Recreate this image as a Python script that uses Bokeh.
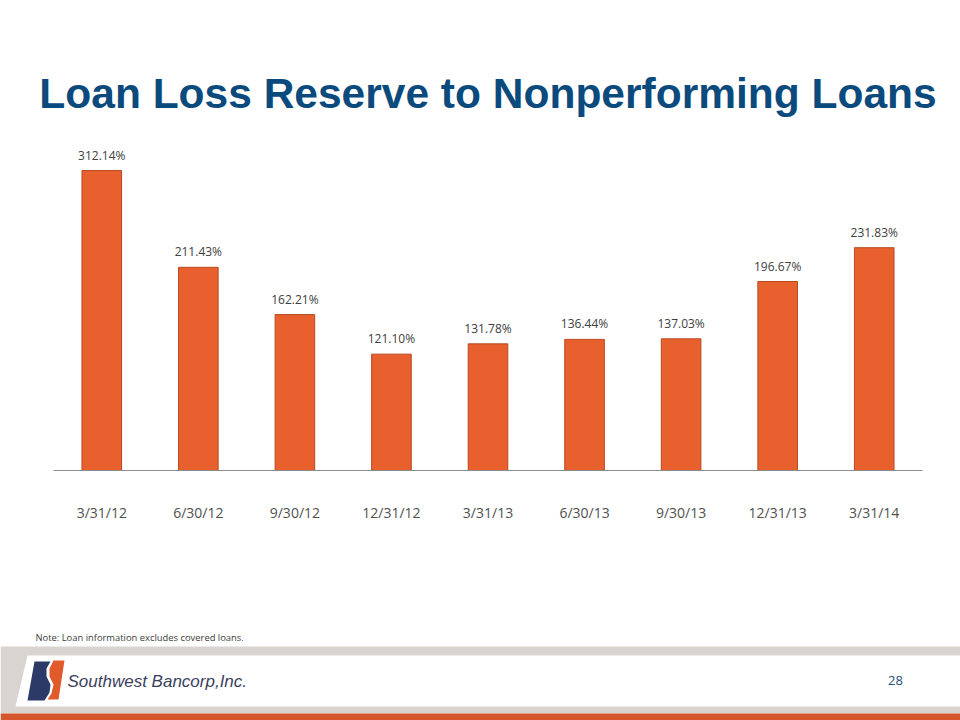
from bokeh.plotting import figure
from bokeh.models import ColumnDataSource, LabelSet, Range1d, FactorRange, Column, Row
from bokeh.core.properties import value
from bokeh.embed import file_html
from bokeh.resources import INLINE

dates = ["3/31/12", "6/30/12", "9/30/12", "12/31/12", "3/31/13", "6/30/13", "9/30/13", "12/31/13", "3/31/14"]
ratios = [312.14, 211.43, 162.21, 121.10, 131.78, 136.44, 137.03, 196.67, 231.83]
label_text = ["%.2f%%" % v for v in ratios]

# frame of the main chart in page pixels
FL, FR, FT, FB = 53, 922, 140, 470
MAIN_H = 625
W = 960

src = ColumnDataSource(dict(d=dates, v=ratios, t=label_text))

p = figure(width=W, height=MAIN_H, x_range=FactorRange(*dates, range_padding=0), y_range=Range1d(0, 343.4),
           output_backend="svg", toolbar_location=None,
           title="Loan Loss Reserve to Nonperforming Loans",
           min_border_left=FL, min_border_right=W - FR, min_border_top=FT, min_border_bottom=MAIN_H - FB)
p.background_fill_color = "white"
p.border_fill_color = "white"
p.outline_line_color = None
p.grid.visible = False
p.yaxis.visible = False

p.title.align = "center"
p.title.text_font = "Liberation Sans"
p.title.text_font_style = "bold"
p.title.text_font_size = "42.5px"
p.title.text_color = "#0B4A7D"
p.title.standoff = 48
p.title.offset = 0

p.vbar(x="d", top="v", width=0.41, source=src, fill_color="#E8602E", line_color="#B8491F", line_width=1)

labels = LabelSet(x="d", y="v", text="t", source=src, text_align="center", text_baseline="bottom",
                  y_offset=7, text_font=value("Open Sans"), text_font_size="12px", text_color="#404040")
p.add_layout(labels)

xa = p.xaxis[0]
xa.axis_line_color = "#8C8C8C"
xa.axis_line_width = 1
xa.major_tick_line_color = None
xa.minor_tick_line_color = None
xa.major_label_standoff = 26
xa.major_label_text_font = "Open Sans"
xa.major_label_text_font_size = "14px"
xa.major_label_text_color = "#505050"

# Footer figure in page coordinates (y grows downwards)
f = figure(width=W, height=720 - MAIN_H, x_range=Range1d(0, 960), y_range=Range1d(720, MAIN_H),
           output_backend="svg", toolbar_location=None, x_axis_type=None, y_axis_type=None,
           min_border=0, min_border_left=0, min_border_right=0, min_border_top=0, min_border_bottom=0)
f.outline_line_color = None
f.grid.visible = False
f.background_fill_color = "white"
f.border_fill_color = "white"

f.text(x=[35], y=[637], text=["Note: Loan information excludes covered loans."], text_align="left",
       text_baseline="middle", text_font=value("Open Sans"), text_font_size="9.4px", text_color="#404040")

f.quad(left=[0], right=[960], top=[646], bottom=[713], fill_color="#DAD4D1", line_color=None)
f.patch(x=[27, 960, 960, 15], y=[655, 655, 706, 706], fill_color="white", line_color=None)
f.quad(left=[0], right=[960], top=[713], bottom=[720], fill_color="#D8562B", line_color=None)

# logo
f.patch(x=[34, 50, 46, 46, 50, 49, 44, 27], y=[661, 661, 668, 676, 684, 692, 700, 700],
        fill_color="#2B3A67", line_color=None)
f.patch(x=[53, 64, 58, 47, 51, 53, 49, 49], y=[660, 660, 699, 699, 693, 684, 676, 668],
        fill_color="#E05A2B", line_color=None)
f.text(x=[67], y=[681], text=["Southwest Bancorp,Inc."], text_align="left", text_baseline="middle",
       text_font=value("Liberation Sans"), text_font_style="italic", text_font_size="17px", text_color="#3B3F5E")

f.text(x=[895], y=[680], text=["28"], text_align="center", text_baseline="middle",
       text_font=value("Open Sans"), text_font_size="13px", text_color="#1F4E79")

layout = Column(children=[Row(children=[p]), Row(children=[f])], spacing=0)
open("out.html", "w").write(file_html(layout, INLINE))
